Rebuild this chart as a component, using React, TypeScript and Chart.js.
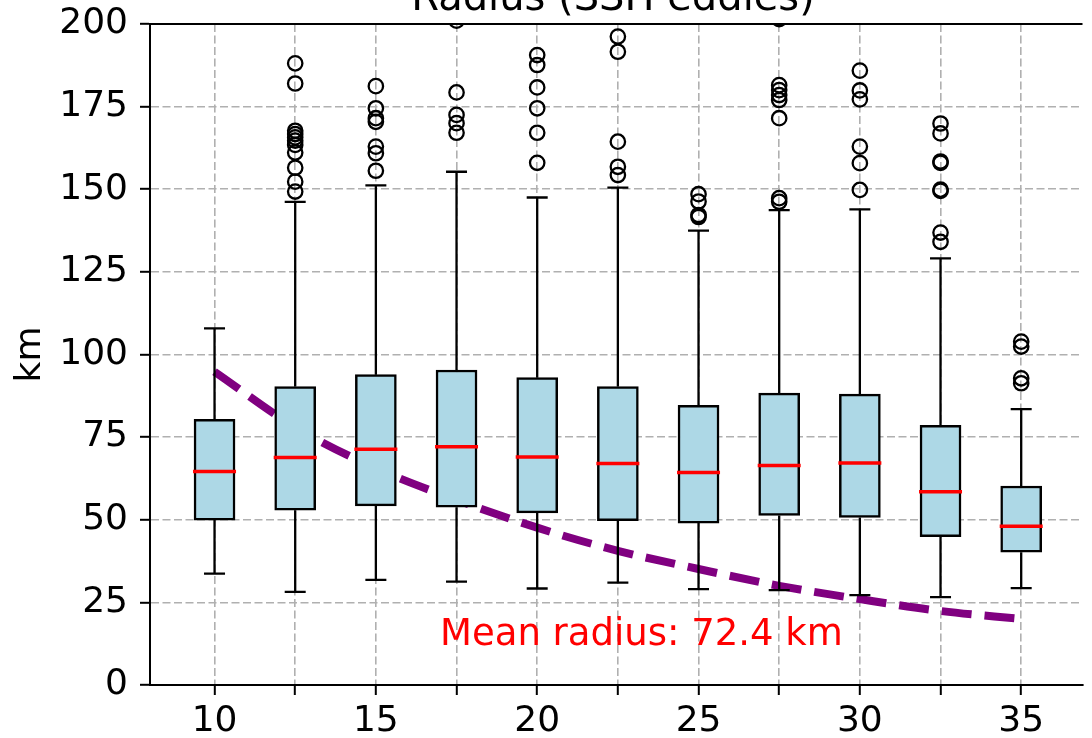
import React, { useEffect, useRef } from 'react';
import { Chart, registerables } from 'chart.js';

Chart.register(...registerables);

// ---- data ----
const positions = [10, 12.5, 15, 17.5, 20, 22.5, 25, 27.5, 30, 32.5, 35];
const tickLabelsShown = [10, 15, 20, 25, 30, 35];
const yTicks = [0, 25, 50, 75, 100, 125, 150, 175, 200];

const q1 = [49.9, 52.9, 54.2, 53.8, 52.1, 49.7, 49.0, 51.3, 50.7, 44.9, 40.2];
const q3 = [80.4, 90.3, 93.9, 95.3, 93.0, 90.3, 84.6, 88.3, 88.0, 78.6, 60.2];
const medians = [64.6, 68.8, 71.3, 72.1, 69.0, 67.0, 64.3, 66.4, 67.2, 58.5, 48.0];
const whiskerLow = [33.7, 28.2, 31.8, 31.3, 29.2, 31.0, 29.0, 28.7, 27.2, 26.6, 29.3];
const whiskerHigh = [107.9, 146.2, 151.2, 155.3, 147.5, 150.5, 137.5, 143.7, 143.9, 129.1, 83.5];

const outliers10: number[] = [];
const outliers12_5 = [188.1, 182.0, 167.7, 166.7, 165.7, 164.7, 163.4, 161.1, 156.5, 152.3, 149.3];
const outliers15 = [181.2, 174.5, 171.5, 170.4, 162.9, 160.9, 155.6];
const outliers17_5 = [201.0, 179.3, 172.5, 170.0, 167.1];
const outliers20 = [190.6, 187.6, 180.8, 174.5, 167.1, 158.0];
const outliers22_5 = [196.2, 191.6, 164.4, 156.8, 154.3];
const outliers25 = [148.5, 146.3, 142.2, 141.6];
const outliers27_5 = [201.5, 181.5, 180.0, 178.5, 177.0, 171.5, 147.3, 146.2];
const outliers30 = [185.9, 179.9, 177.2, 162.9, 157.9, 149.8];
const outliers32_5 = [169.9, 166.9, 158.4, 158.0, 149.9, 149.5, 136.9, 134.1];
const outliers35 = [103.9, 102.4, 92.8, 91.3];
const outlierGroups = [
  outliers10, outliers12_5, outliers15, outliers17_5, outliers20, outliers22_5,
  outliers25, outliers27_5, outliers30, outliers32_5, outliers35,
];

const meanCurve = [94.8, 78.0, 65.6, 56.0, 47.6, 40.6, 35.1, 30.0, 26.0, 22.4, 20.0];

const titleText = 'Radius (SSH eddies)';
const yLabel = 'km';
const noteText = 'Mean radius: 72.4 km';

const FONT = '"DejaVu Sans", "Liberation Sans", sans-serif';

const boxExtras = {
  id: 'boxExtras',
  afterDatasetsDraw(chart: any) {
    const { ctx, chartArea } = chart;
    const xs = chart.scales.x;
    const ys = chart.scales.y;
    ctx.save();
    ctx.lineCap = 'butt';
    positions.forEach((p, i) => {
      const px = xs.getPixelForValue(p);
      ctx.strokeStyle = '#000';
      ctx.lineWidth = 2.3;
      const yq3 = ys.getPixelForValue(q3[i]);
      const yq1 = ys.getPixelForValue(q1[i]);
      const yHi = ys.getPixelForValue(whiskerHigh[i]);
      const yLo = ys.getPixelForValue(whiskerLow[i]);
      ctx.beginPath();
      ctx.moveTo(px, yq3);
      ctx.lineTo(px, yHi);
      ctx.moveTo(px - 10.5, yHi);
      ctx.lineTo(px + 10.5, yHi);
      ctx.moveTo(px, yq1);
      ctx.lineTo(px, yLo);
      ctx.moveTo(px - 10.5, yLo);
      ctx.lineTo(px + 10.5, yLo);
      ctx.stroke();
      // median
      const ym = ys.getPixelForValue(medians[i]);
      ctx.strokeStyle = '#ff0000';
      ctx.lineWidth = 3.5;
      ctx.beginPath();
      ctx.moveTo(px - 21.5, ym);
      ctx.lineTo(px + 21.5, ym);
      ctx.stroke();
    });
    // top spine
    ctx.strokeStyle = '#000';
    ctx.lineWidth = 2;
    ctx.beginPath();
    ctx.moveTo(chartArea.left - 1, chartArea.top);
    ctx.lineTo(chartArea.right, chartArea.top);
    ctx.stroke();
    ctx.restore();
  },
  afterDraw(chart: any) {
    const { ctx, chartArea } = chart;
    const xs = chart.scales.x;
    const ys = chart.scales.y;
    ctx.save();
    // title (partly cut off at the top of the picture)
    ctx.fillStyle = '#000';
    ctx.font = `40px ${FONT}`;
    ctx.textAlign = 'center';
    ctx.textBaseline = 'alphabetic';
    ctx.fillText(titleText, xs.getPixelForValue(22.35), 10);
    // y axis label
    ctx.font = `36px ${FONT}`;
    ctx.save();
    ctx.translate(31, (chartArea.top + chartArea.bottom) / 2);
    ctx.rotate(-Math.PI / 2);
    ctx.textAlign = 'center';
    ctx.textBaseline = 'middle';
    ctx.fillText(yLabel, 0, 0);
    ctx.restore();
    // note
    ctx.fillStyle = '#ff0000';
    ctx.font = `37px ${FONT}`;
    ctx.textAlign = 'center';
    ctx.textBaseline = 'alphabetic';
    ctx.fillText(noteText, xs.getPixelForValue(23.23), ys.getPixelForValue(12.1));
    ctx.restore();
  },
};

export default function App() {
  const canvasRef = useRef<HTMLCanvasElement | null>(null);

  useEffect(() => {
    const canvas = canvasRef.current;
    if (!canvas) return;

    const outlierPoints: { x: number; y: number }[] = [];
    outlierGroups.forEach((g, i) => g.forEach((v) => outlierPoints.push({ x: positions[i], y: v })));

    const chart = new Chart(canvas, {
      type: 'bar',
      data: {
        datasets: [
          {
            type: 'scatter',
            data: outlierPoints,
            pointRadius: 7.2,
            pointHoverRadius: 7.2,
            pointBorderWidth: 2.3,
            pointBackgroundColor: 'rgba(0,0,0,0)',
            pointBorderColor: '#000',
            order: 1,
            clip: 0,
          } as any,
          {
            type: 'bar',
            data: positions.map((p, i) => ({ x: p, y: [q1[i], q3[i]] })),
            backgroundColor: '#add8e6',
            borderColor: '#000',
            borderWidth: 2.5,
            borderSkipped: false,
            barThickness: 41,
            grouped: false,
            order: 2,
          } as any,
          {
            type: 'line',
            data: positions.map((p, i) => ({ x: p, y: meanCurve[i] })),
            borderColor: '#800080',
            borderWidth: 8,
            borderDash: [30, 13],
            borderCapStyle: 'butt',
            pointRadius: 0,
            fill: false,
            cubicInterpolationMode: 'monotone',
            order: 3,
          } as any,
        ],
      },
      options: {
        animation: false,
        responsive: false,
        maintainAspectRatio: false,
        events: [],
        layout: { padding: { top: 24, left: 0, right: 0, bottom: 0 } },
        plugins: {
          legend: { display: false },
          tooltip: { enabled: false },
          title: { display: false },
        },
        scales: {
          x: {
            type: 'linear',
            min: 8,
            max: 36.9,
            offset: false,
            afterFit: (scale: any) => {
              scale.height = 53;
              scale.paddingLeft = 0;
              scale.paddingRight = 0;
            },
            afterBuildTicks: (scale: any) => {
              scale.ticks = positions.map((v) => ({ value: v }));
            },
            ticks: {
              autoSkip: false,
              maxRotation: 0,
              minRotation: 0,
              padding: 5,
              color: '#000',
              font: { family: FONT, size: 36 },
              callback: (v: any) => (tickLabelsShown.includes(Number(v)) ? String(v) : ''),
            },
            grid: {
              offset: false,
              color: '#b0b0b0',
              lineWidth: 1.6,
              drawTicks: true,
              tickLength: 10,
              tickColor: '#000',
              tickWidth: 2,
              tickBorderDash: [],
            },
            border: { display: true, color: '#000', width: 2, dash: [8, 3.5] },
          } as any,
          y: {
            type: 'linear',
            min: 0,
            max: 200,
            afterFit: (scale: any) => {
              scale.width = 150;
              scale.paddingTop = 0;
              scale.paddingBottom = 0;
            },
            afterBuildTicks: (scale: any) => {
              scale.ticks = yTicks.map((v) => ({ value: v }));
            },
            ticks: {
              padding: 12,
              color: '#000',
              font: { family: FONT, size: 36 },
            },
            grid: {
              color: '#b0b0b0',
              lineWidth: 1.6,
              drawTicks: true,
              tickLength: 10,
              tickColor: '#000',
              tickWidth: 2,
              tickBorderDash: [],
            },
            border: { display: true, color: '#000', width: 2, dash: [8, 3.5] },
          } as any,
        },
      },
      plugins: [boxExtras],
    });

    return () => chart.destroy();
  }, []);

  return (
    <div style={{ position: 'absolute', left: 0, top: 0, width: 1092, height: 738, background: '#fff', overflow: 'hidden' }}>
      <canvas ref={canvasRef} width={1092} height={738} style={{ display: 'block' }} />
    </div>
  );
}
